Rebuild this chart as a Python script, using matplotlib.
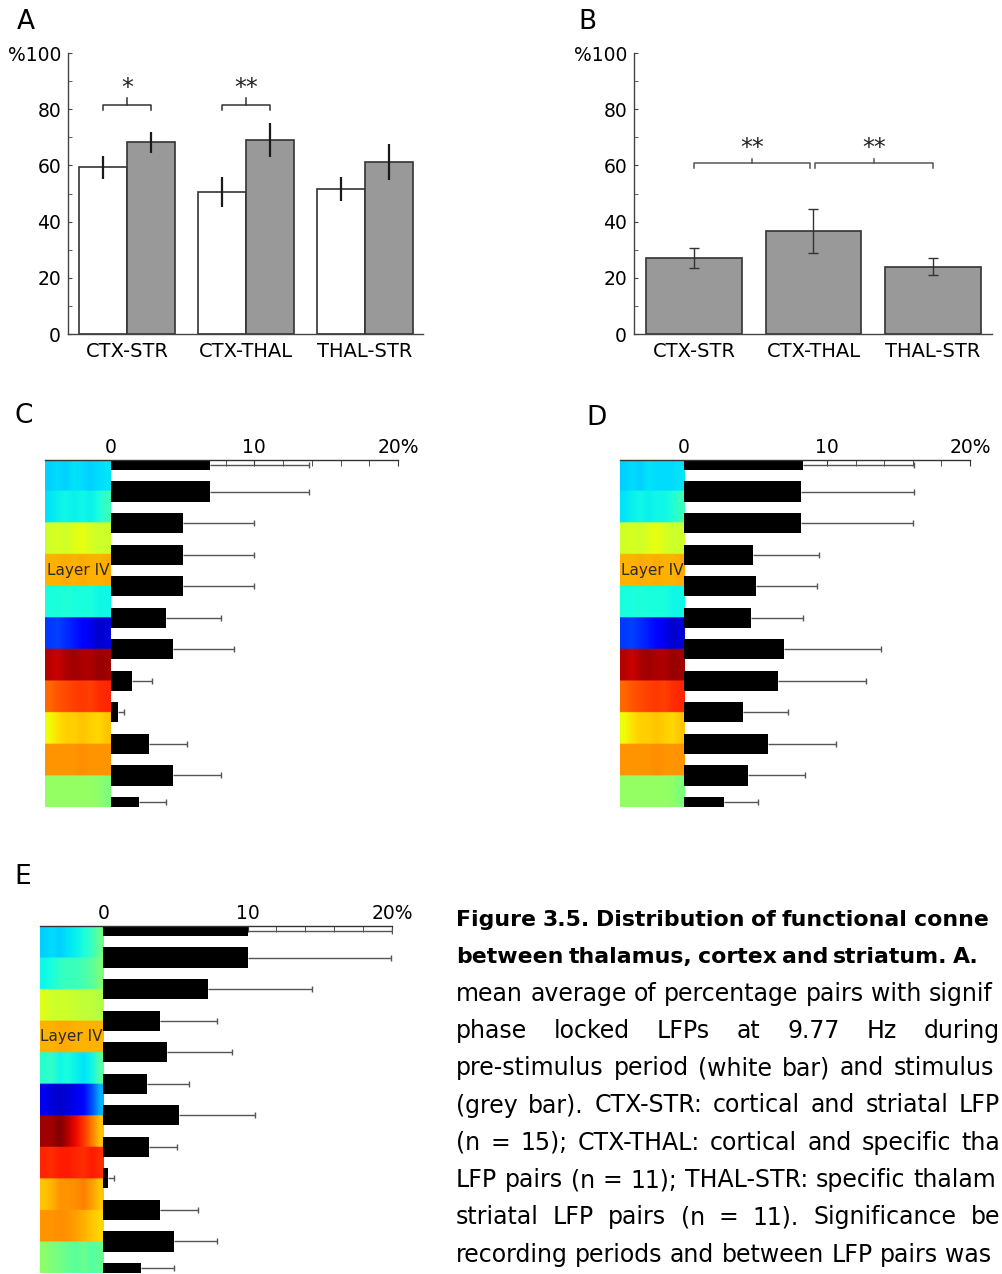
import numpy as np
import matplotlib
matplotlib.use("Agg")
import matplotlib.pyplot as plt

# ---- data ----
pairs = ["CTX-STR", "CTX-THAL", "THAL-STR"]
pre_mean = [59.3, 50.5, 51.5]
pre_err = [4.0, 5.2, 4.3]
stim_mean = [68.2, 69.0, 61.2]
stim_err = [3.7, 6.0, 6.3]
sig_a = ["*", "**", ""]

b_mean = [27.0, 36.6, 24.0]
b_err = [3.6, 7.8, 3.0]

c_mean = [6.9, 6.9, 5.05, 5.05, 5.05, 3.85, 4.35, 1.5, 0.5, 2.7, 4.35, 1.95]
c_err = [6.9, 6.9, 4.9, 4.9, 4.9, 3.8, 4.25, 1.4, 0.45, 2.6, 3.35, 1.9]
d_mean = [8.35, 8.2, 8.2, 4.85, 5.05, 4.65, 7.0, 6.55, 4.15, 5.85, 4.5, 2.8]
d_err = [7.7, 7.85, 7.8, 4.6, 4.25, 3.7, 6.75, 6.2, 3.1, 4.75, 3.95, 2.35]
e_mean = [10.0, 10.0, 7.25, 3.9, 4.45, 3.05, 5.25, 3.2, 0.35, 3.95, 4.9, 2.6]
e_err = [10.0, 9.9, 7.2, 3.95, 4.5, 2.9, 5.25, 1.9, 0.4, 2.6, 3.0, 2.3]

# colour strip (jet values) for the layers, 11 bands x 8 columns
strip_c = [
    [0.33, 0.34, 0.33, 0.35, 0.34, 0.33, 0.34, 0.35],
    [0.35, 0.36, 0.37, 0.36, 0.37, 0.36, 0.38, 0.42],
    [0.60, 0.61, 0.60, 0.62, 0.63, 0.61, 0.60, 0.60],
    [0.72, 0.72, 0.73, 0.72, 0.73, 0.72, 0.72, 0.73],
    [0.38, 0.38, 0.39, 0.38, 0.38, 0.38, 0.37, 0.37],
    [0.18, 0.19, 0.17, 0.15, 0.13, 0.10, 0.07, 0.08],
    [0.95, 0.93, 0.96, 0.97, 0.96, 0.96, 0.98, 0.97],
    [0.80, 0.82, 0.83, 0.84, 0.85, 0.84, 0.86, 0.87],
    [0.64, 0.67, 0.69, 0.69, 0.70, 0.69, 0.68, 0.70],
    [0.75, 0.75, 0.75, 0.75, 0.76, 0.75, 0.75, 0.75],
    [0.53, 0.53, 0.53, 0.53, 0.53, 0.53, 0.52, 0.50],
]
strip_d = [
    [0.33, 0.34, 0.33, 0.35, 0.34, 0.34, 0.34, 0.35],
    [0.35, 0.36, 0.37, 0.36, 0.37, 0.37, 0.39, 0.42],
    [0.60, 0.61, 0.60, 0.62, 0.63, 0.61, 0.60, 0.60],
    [0.72, 0.72, 0.73, 0.72, 0.73, 0.72, 0.72, 0.73],
    [0.38, 0.38, 0.39, 0.38, 0.38, 0.38, 0.37, 0.37],
    [0.18, 0.19, 0.17, 0.15, 0.13, 0.10, 0.07, 0.08],
    [0.95, 0.93, 0.96, 0.97, 0.96, 0.96, 0.98, 0.97],
    [0.80, 0.82, 0.83, 0.84, 0.85, 0.84, 0.86, 0.87],
    [0.64, 0.67, 0.69, 0.69, 0.70, 0.69, 0.68, 0.70],
    [0.75, 0.75, 0.75, 0.75, 0.76, 0.75, 0.75, 0.75],
    [0.53, 0.53, 0.53, 0.53, 0.53, 0.53, 0.52, 0.50],
]
strip_e = [
    [0.33, 0.34, 0.33, 0.35, 0.36, 0.38, 0.42, 0.48],
    [0.37, 0.38, 0.41, 0.42, 0.42, 0.44, 0.46, 0.50],
    [0.62, 0.60, 0.60, 0.60, 0.59, 0.58, 0.58, 0.57],
    [0.72, 0.72, 0.73, 0.73, 0.72, 0.72, 0.72, 0.72],
    [0.40, 0.41, 0.37, 0.38, 0.36, 0.35, 0.37, 0.45],
    [0.10, 0.08, 0.07, 0.08, 0.10, 0.13, 0.20, 0.30],
    [0.97, 0.97, 1.00, 0.95, 0.90, 0.85, 0.78, 0.70],
    [0.87, 0.86, 0.88, 0.88, 0.87, 0.86, 0.88, 0.86],
    [0.70, 0.72, 0.75, 0.75, 0.76, 0.77, 0.74, 0.70],
    [0.75, 0.75, 0.76, 0.75, 0.74, 0.72, 0.70, 0.68],
    [0.52, 0.50, 0.49, 0.47, 0.46, 0.48, 0.45, 0.47],
]

caption = [
    ("Figure 3.5. Distribution of functional conne", 914, True),
    ("between thalamus, cortex and striatum. A.", 953, True),
    ("mean average of percentage pairs with signif", 929, False),
    ("phase locked LFPs at 9.77 Hz during", 939, False),
    ("pre-stimulus period (white bar) and stimulus", 894, False),
    ("(grey bar). CTX-STR: cortical and striatal LFP", 974, False),
    ("(n = 15); CTX-THAL: cortical and specific tha", 974, False),
    ("LFP pairs (n = 11); THAL-STR: specific thalam", 913, False),
    ("striatal LFP pairs (n = 11). Significance be", 974, False),
    ("recording periods and between LFP pairs was", 945, False),
]

W, H = 1002, 1274
EDGE = "#333333"
GREY = "#999999"

fig = plt.figure(figsize=(W / 100, H / 100), dpi=100)
fig.patch.set_facecolor("white")


def px_axes(l, t, r, b):
    return fig.add_axes([l / W, 1 - b / H, (r - l) / W, (b - t) / H])


def style_vbar(ax, xlim):
    ax.set_xlim(*xlim)
    ax.set_ylim(0, 100)
    for s in ["top", "right"]:
        ax.spines[s].set_visible(False)
    for s in ["left", "bottom"]:
        ax.spines[s].set_color("#444444")
        ax.spines[s].set_linewidth(1.0)
    ax.set_yticks(np.arange(0, 101, 20))
    ax.set_yticklabels(["0", "20", "40", "60", "80", "%100"])
    ax.set_yticks(np.arange(10, 100, 20), minor=True)
    ax.tick_params(axis="y", which="both", direction="in", length=3,
                   color="#444444", labelsize=13.5, pad=5)
    ax.set_xticks(range(len(pairs)))
    ax.set_xticklabels(pairs)
    ax.tick_params(axis="x", length=0, labelsize=14, pad=6)


def bracket(ax, x0, x1, y, drop, rise, text, ty, color):
    ax.plot([x0, x0, x1, x1], [y - drop, y, y, y - drop], color=color, lw=1.1)
    ax.plot([(x0 + x1) / 2] * 2, [y, y + rise], color=color, lw=1.1)
    ax.text((x0 + x1) / 2, ty, text, ha="center", va="center", fontsize=17,
            color="#222222")


# ---- panel A ----
axA = px_axes(68, 53, 423, 334)
x = np.arange(len(pairs))
bw = 0.403
axA.bar(x - bw / 2, pre_mean, bw, color="white", edgecolor=EDGE, linewidth=1.2, zorder=2)
axA.bar(x + bw / 2, stim_mean, bw, color=GREY, edgecolor=EDGE, linewidth=1.2, zorder=2)
axA.errorbar(x - bw / 2, pre_mean, yerr=pre_err, fmt="none", ecolor="#1a1a1a",
             elinewidth=1.6, capsize=0, zorder=3)
axA.errorbar(x + bw / 2, stim_mean, yerr=stim_err, fmt="none", ecolor="#1a1a1a",
             elinewidth=1.6, capsize=0, zorder=3)
style_vbar(axA, (-0.496, 2.487))
for i, s in enumerate(sig_a):
    if s:
        bracket(axA, i - bw / 2, i + bw / 2, 81.6, 1.8, 2.3, s, 87.5, "#333333")

# ---- panel B ----
axB = px_axes(634, 53, 992, 334)
axB.bar(x, b_mean, 0.803, color=GREY, edgecolor=EDGE, linewidth=1.2, zorder=2)
axB.errorbar(x, b_mean, yerr=b_err, fmt="none", ecolor="#333333",
             elinewidth=1.0, capsize=3.5, capthick=1.0, zorder=3)
style_vbar(axB, (-0.502, 2.494))
bracket(axB, 0, 0.97, 60.8, 1.8, 1.5, "**", 66.3, "#555555")
bracket(axB, 1.01, 2.0, 60.8, 1.8, 1.5, "**", 66.3, "#555555")


# ---- panels C, D, E ----
def layer_panel(box, xleft, means, errs, strip):
    ax = px_axes(*box)
    n = len(means)
    pos = np.arange(n)
    # repeat rows so the smoothing only blends neighbouring columns
    img = np.repeat(np.array(strip), 24, axis=0)
    ax.imshow(img, cmap="jet", vmin=0, vmax=1, aspect="auto",
              interpolation="bilinear", extent=[xleft, 0, n - 1, 0], zorder=1)
    ax.barh(pos, means, height=0.64, color="black", zorder=2)
    ey = np.clip(pos, 0.17, n - 1 - 0.17)
    ends = np.array(means) + np.array(errs)
    ax.hlines(ey, means, ends, color="#555555", lw=1.0, zorder=3)
    ax.plot(ends, ey, ls="none", marker="|", ms=4, mew=1.0, color="#555555", zorder=3)
    ax.text(xleft / 2, 3.5, "Layer IV", ha="center", va="center", fontsize=11,
            color="#2a2a2a", zorder=4)
    ax.set_xlim(xleft, 20)
    ax.set_ylim(n - 1, 0)
    for s in ["bottom", "left", "right"]:
        ax.spines[s].set_visible(False)
    ax.spines["top"].set_color("#333333")
    ax.spines["top"].set_linewidth(1.0)
    ax.xaxis.tick_top()
    ax.set_xticks([0, 10, 20])
    ax.set_xticklabels(["0", "10", "20%"])
    ax.set_xticks(np.arange(2, 20, 2), minor=True)
    ax.tick_params(axis="x", which="both", direction="in", length=4,
                   color="#333333", labelsize=13.5, pad=2)
    ax.set_yticks([])
    return ax


layer_panel((45, 460, 398, 807), -4.57, c_mean, c_err, strip_c)
layer_panel((620, 460, 970, 807), -4.48, d_mean, d_err, strip_d)
layer_panel((40, 926, 392, 1273), -4.38, e_mean, e_err, strip_e)

# panel letters
for letter, px, py in [("A", 17, 22), ("B", 578, 22), ("C", 14, 416),
                       ("D", 586, 418), ("E", 14, 877)]:
    fig.text(px / W, 1 - py / H, letter, fontsize=19, ha="left", va="center")

# ---- caption (justified lines, last word kept inside the figure) ----
renderer = fig.canvas.get_renderer()
X0 = 456
for k, (line, last_x, bold) in enumerate(caption):
    words = line.split(" ")
    base = 926 + 37.3 * k
    ts = [fig.text(0, 1 - base / H, w, fontsize=15.8 if bold else 17, va="baseline",
                   fontweight="bold" if bold else "normal") for w in words]
    ws = [t.get_window_extent(renderer).width for t in ts]
    last_x = min(last_x, W - 2 - ws[-1])
    gap = (last_x - X0 - sum(ws[:-1])) / (len(words) - 1)
    xx = X0
    for t, w in zip(ts, ws):
        t.set_x(xx / W)
        xx += w + gap

fig.savefig("out.png", dpi=100)
